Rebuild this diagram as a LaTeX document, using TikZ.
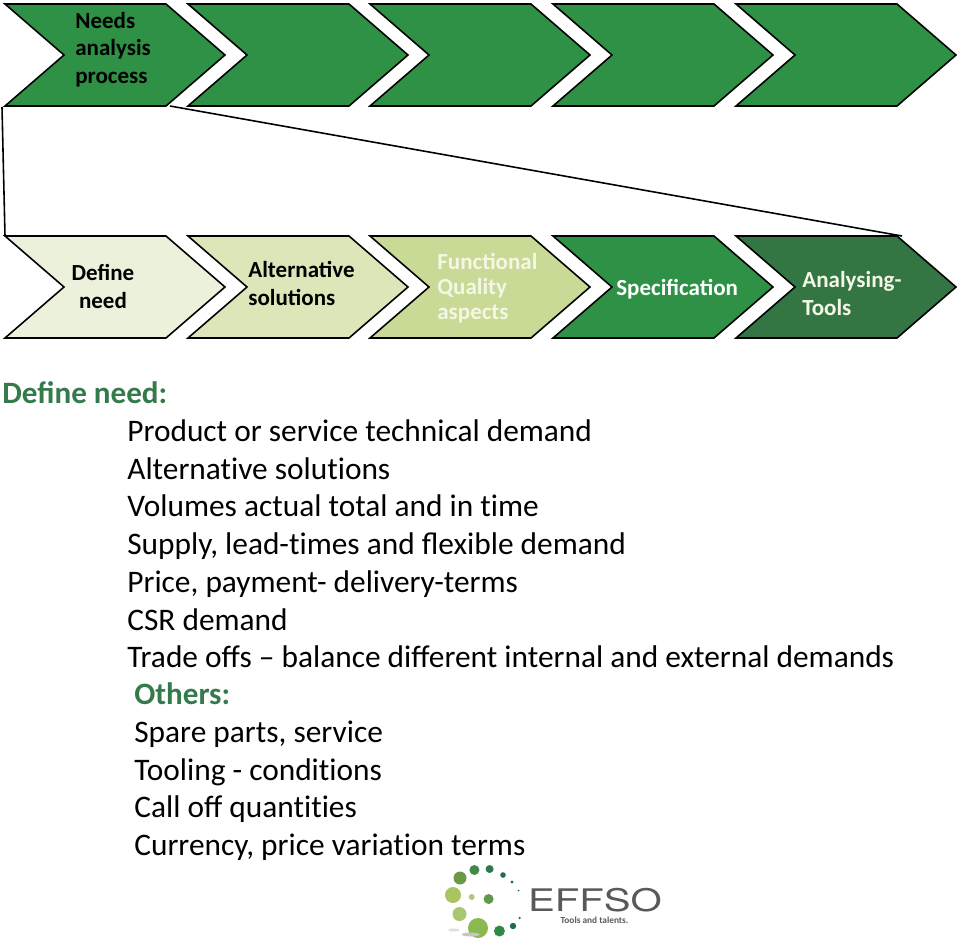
\documentclass[tikz,border=0pt]{standalone}
\usepackage{fontspec}
\setmainfont{Carlito}
\newfontfamily\logofont{TeX Gyre Heros}
\newcommand\ti{t\kern0pt i}
\definecolor{chevgreen}{HTML}{2F9146}
\definecolor{chevdark}{HTML}{337543}
\definecolor{chevpale}{HTML}{ECF1DC}
\definecolor{chevlight}{HTML}{DCE6B9}
\definecolor{chevmid}{HTML}{C9DA96}
\definecolor{headgreen}{HTML}{357A4C}
\definecolor{palewhite}{HTML}{F4F7E6}
\tikzset{
    chevron/.style={draw=black,line width=0.9pt,line join=miter},
    chevlabel/.style={inner sep=0pt,font=\bfseries\fontsize{13.1}{15.6}\selectfont},
    bodyline/.style={anchor=base west,inner sep=0pt,font=\fontsize{17.85}{20}\selectfont},
    headline/.style={bodyline,text=headgreen,font=\bfseries\fontsize{17.7}{20}\selectfont}
}

\begin{document}
\begin{tikzpicture}[x=0.02cm,y=-0.02cm]
\useasboundingbox (0,0) rectangle (960,944);

% top row
\foreach \xx in {5,188,370,553,736}
    \draw[chevron,fill=chevgreen] (\xx,4)--(\xx+161,4)--(\xx+220,55)--(\xx+161,106)--(\xx,106)--(\xx+59,55)--cycle;

% bottom row
\foreach \xx/\col in {5/chevpale,188/chevlight,370/chevmid,553/chevgreen,736/chevdark}
    \draw[chevron,fill=\col] (\xx,236)--(\xx+161,236)--(\xx+220,287)--(\xx+161,338)--(\xx,338)--(\xx+59,287)--cycle;

% zoom lines
\coordinate (topleft) at (2,107);
\coordinate (botleft) at (5,236);
\coordinate (topright) at (170,106);
\coordinate (botright) at (902,236);
\draw[line width=0.9pt] (topleft)--(botleft) (topright)--(botright);

\node[chevlabel,align=left,anchor=west] (needs) at (75,49.5) {Needs\\analysis\\process};
\node[chevlabel,align=center] (define) at (103,286.5) {Define\\need};
\node[chevlabel,align=left,anchor=west] (altern) at (248,283.5) {Alternative\\solutions};
\node[chevlabel,align=left,anchor=west,text=palewhite,font=\bfseries\fontsize{13.1}{14.2}\selectfont] (funct) at (437,288) {Functional\\Quality\\aspects};
\node[chevlabel,anchor=west,text=white] (spec) at (616,289) {Specification};
\node[chevlabel,align=left,anchor=west,text=palewhite] (tools) at (802,293.5) {Analysing-\\Tools};

% text block
\node[headline] (defhead) at (2,403.5) {Define need:};
\foreach \txt [count=\i] in {Product or service technical demand,Alterna\ti ve solu\ti ons,Volumes actual total and in \ti me,{Supply, lead-\ti mes and flexible demand},{Price, payment- delivery-terms},CSR demand,Trade offs -- balance different internal and external demands}
    \node[bodyline] (need\i) at (127,403.8+37.7*\i) {\txt};
\node[headline] (otherhead) at (134,704.5) {Others:};
\foreach \txt [count=\i] in {{Spare parts, service},Tooling - condi\ti ons,Call off quan\ti\ti es,{Currency, price varia\ti on terms}}
    \node[bodyline] (other\i) at (134,704.8+37.7*\i) {\txt};

% logo
\foreach \px/\py/\rad/\col in {460/878/6.5/6A9A45,474.4/870/5/3F8A4A,489.6/869/4/2D7A50,503/875/2.8/2A6A50,512/882/1.6/2A6A50,518.6/890.5/0.9/2A6A50,453/895/8/A8C560,471.7/897/3/B5C57A,488.6/899/5/5F9A4A,459.5/914/7/A8C870,478/928/10/8CB850,499.4/931/5.5/2F8A45,513/926/3.2/1F6A55,519.6/918/1.3/1F6A55}{
    \definecolor{dotcol}{HTML}{\col}
    \fill[dotcol] (\px,\py) circle[radius=\rad];
}
\fill[gray!45] (470.7,934.5) ellipse[x radius=9,y radius=2];
\fill[gray!25] (454,930) ellipse[x radius=6,y radius=1.5];
\node[inner sep=0pt,anchor=base,xscale=1.29,text=black!65,font=\logofont\fontsize{17.7}{20}\selectfont] (effso) at (595,911.5) {EFFSO};
\node[inner sep=0pt,text=black!65,font=\bfseries\fontsize{5.3}{6}\selectfont] (slogan) at (594.5,920.5) {Tools and talents.};
\end{tikzpicture}
\end{document}
